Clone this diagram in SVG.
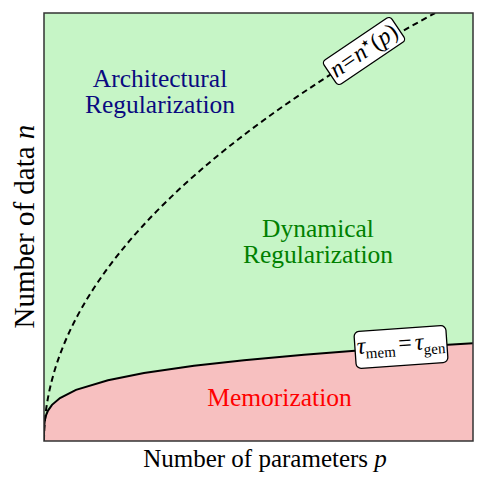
<svg xmlns="http://www.w3.org/2000/svg" width="488" height="487" viewBox="0 0 488 487">
<style>
.lbl{font-family:"Liberation Serif","Times New Roman",serif;font-size:25.5px;text-anchor:middle}
.ax{font-family:"Liberation Serif","Times New Roman",serif;font-size:25px;text-anchor:middle;fill:#000}
.math{font-family:"Liberation Serif","Times New Roman",serif;font-style:italic;font-size:24px;text-anchor:middle;fill:#000}
.box{fill:#fff;stroke:#000;stroke-width:1.3}
</style>
<defs><clipPath id="cp"><rect x="44" y="13" width="429" height="428"/></clipPath></defs>
<g id="background">
<rect x="44" y="13" width="429" height="428" fill="#c6f5c6"/>
<path d="M44,441 L44.01,434.2 L44.1,428.91 L44.5,422.92 L45,419.5 L46,415.43 L48,410.6 L52,404.84 L60,398 L76,389.87 L108,380.2 L144,373.01 L194,365.76 L244,360.14 L304,354.66 L374,349.37 L473,343.15 L473,441 Z" fill="#f7c0c0"/>
</g>
<g id="connectors" clip-path="url(#cp)" fill="none" stroke="#000" stroke-width="2">
<path id="dashed-boundary" d="M44,441 Q44,227 435,13" stroke-dasharray="6,4"/>
<path id="solid-boundary" d="M44,441 L44.01,434.2 L44.1,428.91 L44.5,422.92 L45,419.5 L46,415.43 L48,410.6 L52,404.84 L60,398 L76,389.87 L108,380.2 L144,373.01 L194,365.76 L244,360.14 L304,354.66 L374,349.37 L473,343.15"/>
</g>
<rect id="frame" x="44" y="13" width="429" height="428" fill="none" stroke="#333" stroke-width="1.5"/>
<g id="architectural">
<text class="lbl" fill="#0a0a80"><tspan x="160" y="87">Architectural</tspan><tspan x="160" y="113">Regularization</tspan></text>
</g>
<g id="dynamical">
<text class="lbl" fill="#008000"><tspan x="318" y="237">Dynamical</tspan><tspan x="318" y="263">Regularization</tspan></text>
</g>
<g id="memorization">
<text class="lbl" fill="#ff0000" x="279.5" y="406">Memorization</text>
</g>
<g id="label-nstar" transform="translate(364,51) rotate(-34)">
<rect class="box" x="-41" y="-14.5" width="82" height="29" rx="4"/>
<text class="math" x="0" y="7">n<tspan font-style="normal" dx="1">=</tspan><tspan dx="1">n</tspan><tspan font-style="normal" font-family="DejaVu Sans, sans-serif" font-size="9" dy="-10">★</tspan><tspan font-style="normal" dy="10" dx="1">(</tspan>p<tspan font-style="normal">)</tspan></text>
</g>
<g id="label-tau" transform="translate(401,347) rotate(-4)">
<rect class="box" x="-46" y="-18.5" width="92" height="37" rx="5"/>
<text class="math" x="0" y="4">τ<tspan font-style="normal" font-size="15" dy="5">mem</tspan><tspan font-style="normal" dy="-5" dx="3">=</tspan><tspan dx="3">τ</tspan><tspan font-style="normal" font-size="15" dy="5">gen</tspan></text>
</g>
<g id="axis-labels">
<text class="ax" x="265" y="467">Number of parameters <tspan font-style="italic">p</tspan></text>
<text class="ax" style="font-size:29px" transform="translate(34,226.5) rotate(-90)">Number of data <tspan font-style="italic">n</tspan></text>
</g>
</svg>
